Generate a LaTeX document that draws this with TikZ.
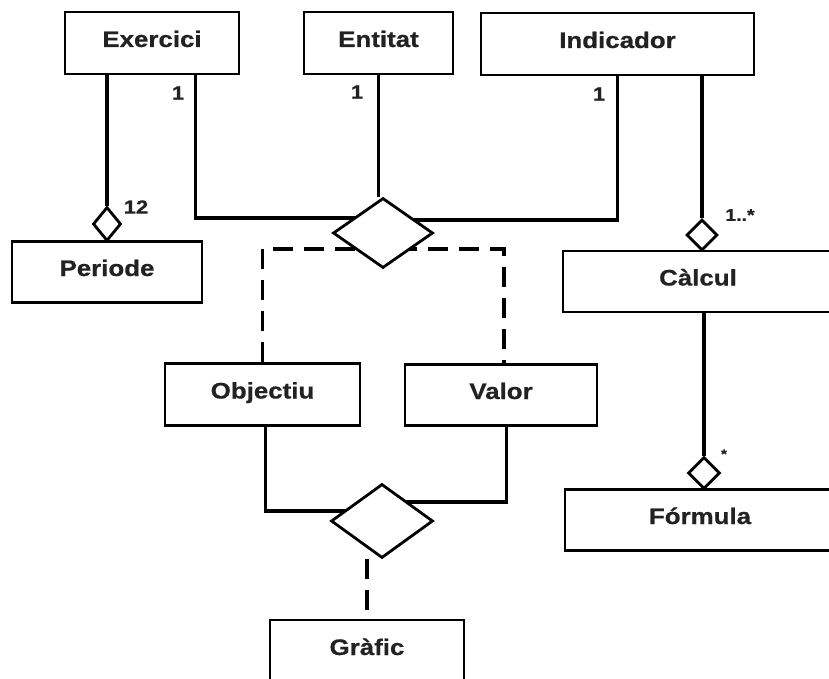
\documentclass[tikz,border=0pt]{standalone}
\usepackage{fontspec}
\setmainfont{Liberation Sans}
\newfontfamily\widefont{Liberation Sans}[FakeStretch=1.15,FakeBold=0.6]
\usetikzlibrary{shapes.geometric,calc,backgrounds}
\definecolor{txt}{HTML}{222222}
\tikzset{
  cls/.style={draw=black, line width=2.8pt, fill=white, rectangle, inner sep=0pt,
    text=txt, font=\widefont\fontsize{22.5}{26}\selectfont\bfseries,
    text height=14pt, text depth=6pt},
  rel/.style={draw=black, line width=2.8pt, fill=white, diamond, inner sep=0pt, aspect=1},
  agg/.style={draw=black, line width=2.8pt, fill=white, diamond, inner sep=0pt},
  conn/.style={draw=black, line width=3.4pt},
  dconn/.style={draw=black, line width=3.8pt, dash pattern=on 20pt off 11pt},
  mult/.style={text=txt, font=\widefont\fontsize{19}{21}\selectfont\bfseries, inner sep=0pt}
}
\begin{document}
\begin{tikzpicture}[x=1pt,y=-1pt]
\useasboundingbox (0,0) rectangle (829,679);
% classes
\node[cls, minimum width=174pt, minimum height=62pt] (ex) at (152,43) {Exercici};
\node[cls, minimum width=149pt, minimum height=62pt] (en) at (378.5,43) {Entitat};
\node[cls, minimum width=273pt, minimum height=62pt] (in) at (617.5,44) {Indicador};
\node[cls, minimum width=190pt, minimum height=61pt] (pe) at (107,272) {Periode};
\node[cls, minimum width=270pt, minimum height=61pt] (ca) at (698,281.5) {Càlcul};
\node[cls, minimum width=195pt, minimum height=62pt] (ob) at (262.5,394.5) {Objectiu};
\node[cls, minimum width=192pt, minimum height=61pt] (va) at (501,395) {Valor};
\node[cls, minimum width=270pt, minimum height=61pt] (fo) at (700,520) {Fórmula};
\node[cls, minimum width=194pt, minimum height=62pt] (gr) at (367,651) {Gràfic};
% relationship diamonds
\node[rel, minimum width=100pt, minimum height=70pt] (d1) at (383,233) {};
\node[rel, minimum width=102pt, minimum height=74pt] (d2) at (382,521) {};
% aggregation diamonds
\node[agg, minimum width=28pt, minimum height=34pt] (dp) at (107,224) {};
\node[agg, minimum width=31pt, minimum height=31pt] (dc) at (702,235) {};
\node[agg, minimum width=32pt, minimum height=32pt] (df) at (704,473) {};
% connectors
\begin{pgfonlayer}{background}
\draw[conn] (ex.south -| dp.north) -- (dp.north);
\draw[conn] ($(ex.south west)+(132,0)$) |- ($(d1.center)+(0,-15)$);
\draw[conn] (en.south) -- (en.south |- d1.north);
\draw[conn] ($(in.south west)+(138,0)$) |- ($(d1.center)+(0,-13)$);
\draw[conn] (in.south -| dc.north) -- (dc.north);
\draw[conn] (ca.south -| df.north) -- (df.north);
\draw[conn] ($(ob.south west)+(102,0)$) |- ($(d2.center)+(0,-10)$);
\draw[conn] ($(va.south west)+(103,0)$) |- ($(d2.center)+(0,-19)$);
\draw[dconn] (ob.north) |- ($(d1.center)+(0,16)$) -| ($(va.north west)+(100,0)$);
\draw[dconn] (d2.south -| gr.north) -- (gr.north);
\end{pgfonlayer}
% multiplicities
\node[mult] (m1) at (178,93) {1};
\node[mult] (m2) at (357,92) {1};
\node[mult] (m3) at (599,94) {1};
\node[mult] (m4) at (136,207) {12};
\node[mult, font=\widefont\fontsize{17}{19}\selectfont\bfseries] (m5) at (740,215) {1..*};
\node[mult, font=\widefont\fontsize{13}{14}\selectfont\bfseries] (m6) at (724,454) {*};
\end{tikzpicture}
\end{document}
